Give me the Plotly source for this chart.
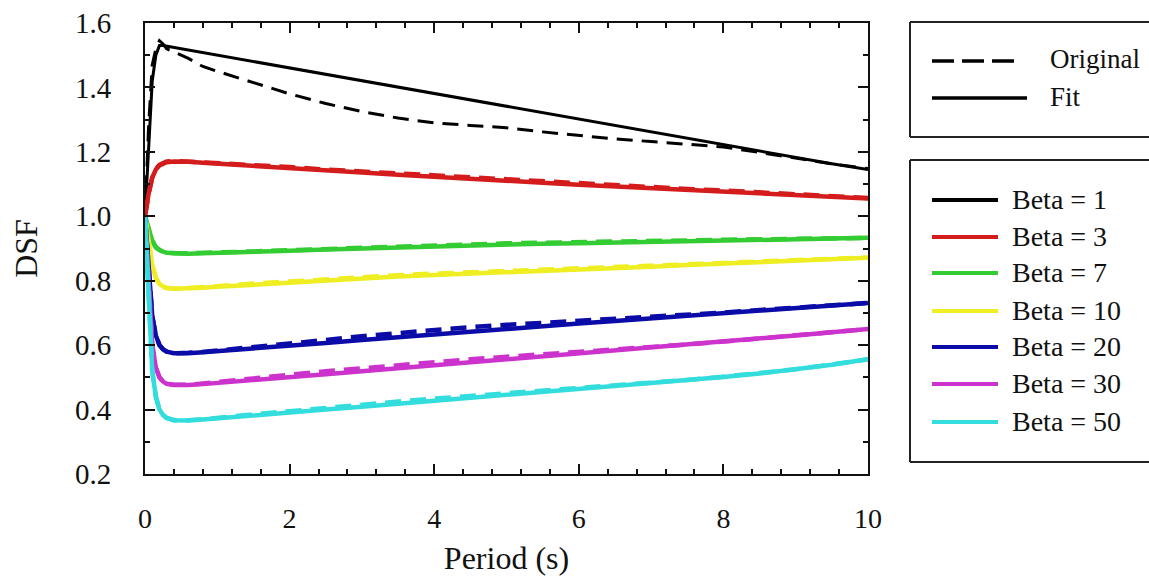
import plotly.graph_objects as go

# Period grid (s)
periods = [0, 0.02, 0.05, 0.1, 0.15, 0.2, 0.25, 0.3, 0.4, 0.5, 0.6, 0.8, 1.0,
           1.5, 2, 2.5, 3, 3.5, 4, 4.5, 5, 5.5, 6, 6.5, 7, 7.5, 8, 8.5, 9, 9.5, 10]

betas = [1, 3, 7, 10, 20, 30, 50]
colors = ["#000000", "#d41c1c", "#33cc33", "#eeee22", "#0b0ba8", "#cc33cc", "#33dddd"]

# Fitted damping scaling factor curves
fit_b1 = [1.0, 1.08, 1.22, 1.42, 1.50, 1.53, 1.53, 1.528, 1.524, 1.520, 1.516, 1.508, 1.500,
          1.480, 1.460, 1.440, 1.421, 1.401, 1.381, 1.361, 1.341, 1.321, 1.302, 1.282, 1.262,
          1.242, 1.222, 1.202, 1.183, 1.163, 1.145]
fit_b3 = [1.0, 1.03, 1.07, 1.12, 1.145, 1.158, 1.165, 1.168, 1.170, 1.170, 1.169, 1.166, 1.163,
          1.157, 1.150, 1.143, 1.136, 1.129, 1.122, 1.116, 1.110, 1.104, 1.098, 1.093, 1.088,
          1.083, 1.078, 1.072, 1.067, 1.061, 1.055]
fit_b7 = [1.0, 0.985, 0.955, 0.925, 0.905, 0.895, 0.890, 0.887, 0.885, 0.884, 0.884, 0.885, 0.886,
          0.889, 0.893, 0.897, 0.900, 0.904, 0.908, 0.911, 0.913, 0.915, 0.916, 0.918, 0.921,
          0.924, 0.926, 0.928, 0.930, 0.932, 0.933]
fit_b10 = [1.0, 0.97, 0.92, 0.85, 0.81, 0.79, 0.782, 0.778, 0.775, 0.775, 0.776, 0.778, 0.781,
           0.788, 0.795, 0.802, 0.808, 0.813, 0.818, 0.822, 0.827, 0.830, 0.833, 0.838, 0.843,
           0.849, 0.854, 0.859, 0.863, 0.867, 0.871]
fit_b20 = [1.0, 0.93, 0.83, 0.69, 0.63, 0.60, 0.587, 0.580, 0.575, 0.574, 0.575, 0.578, 0.581,
           0.589, 0.598, 0.607, 0.616, 0.625, 0.634, 0.643, 0.651, 0.659, 0.667, 0.675, 0.683,
           0.691, 0.699, 0.708, 0.716, 0.724, 0.731]
fit_b30 = [1.0, 0.91, 0.78, 0.60, 0.53, 0.50, 0.487, 0.480, 0.476, 0.475, 0.476, 0.479, 0.483,
           0.492, 0.501, 0.510, 0.519, 0.528, 0.537, 0.546, 0.555, 0.564, 0.573, 0.582, 0.591,
           0.600, 0.610, 0.620, 0.630, 0.640, 0.650]
fit_b50 = [1.0, 0.89, 0.74, 0.52, 0.44, 0.40, 0.383, 0.374, 0.367, 0.365, 0.366, 0.369, 0.373,
           0.382, 0.391, 0.400, 0.409, 0.418, 0.427, 0.436, 0.445, 0.454, 0.463, 0.472, 0.481,
           0.491, 0.501, 0.512, 0.524, 0.539, 0.556]

# Original (computed) curves
orig_b1 = [1.0, 1.10, 1.28, 1.47, 1.52, 1.545, 1.535, 1.520, 1.510, 1.500, 1.490, 1.465, 1.450,
           1.415, 1.380, 1.350, 1.325, 1.305, 1.290, 1.282, 1.275, 1.262, 1.250, 1.240, 1.232,
           1.224, 1.215, 1.198, 1.180, 1.163, 1.148]
orig_b3 = [1.0, 1.03, 1.07, 1.12, 1.147, 1.160, 1.167, 1.170, 1.172, 1.171, 1.170, 1.167, 1.164,
           1.158, 1.153, 1.145, 1.139, 1.131, 1.125, 1.118, 1.112, 1.106, 1.101, 1.095, 1.090,
           1.085, 1.080, 1.074, 1.069, 1.063, 1.057]
orig_b7 = [1.0, 0.985, 0.953, 0.922, 0.903, 0.894, 0.889, 0.887, 0.885, 0.885, 0.885, 0.887, 0.888,
           0.891, 0.895, 0.899, 0.903, 0.907, 0.911, 0.914, 0.916, 0.918, 0.919, 0.921, 0.923,
           0.925, 0.927, 0.929, 0.931, 0.932, 0.933]
orig_b10 = [1.0, 0.97, 0.918, 0.848, 0.808, 0.789, 0.781, 0.777, 0.775, 0.776, 0.777, 0.780, 0.783,
            0.791, 0.798, 0.805, 0.811, 0.817, 0.822, 0.826, 0.830, 0.833, 0.836, 0.840, 0.845,
            0.850, 0.855, 0.860, 0.864, 0.868, 0.872]
orig_b20 = [1.0, 0.93, 0.83, 0.69, 0.63, 0.60, 0.587, 0.580, 0.575, 0.575, 0.576, 0.579, 0.583,
            0.593, 0.604, 0.616, 0.628, 0.638, 0.648, 0.656, 0.663, 0.669, 0.674, 0.680, 0.687,
            0.694, 0.701, 0.709, 0.717, 0.724, 0.731]
orig_b30 = [1.0, 0.91, 0.78, 0.60, 0.53, 0.50, 0.487, 0.480, 0.477, 0.476, 0.477, 0.481, 0.486,
            0.497, 0.508, 0.519, 0.529, 0.539, 0.548, 0.556, 0.564, 0.571, 0.578, 0.586, 0.594,
            0.602, 0.611, 0.621, 0.630, 0.640, 0.650]
orig_b50 = [1.0, 0.89, 0.74, 0.52, 0.44, 0.40, 0.383, 0.374, 0.367, 0.366, 0.367, 0.370, 0.375,
            0.385, 0.395, 0.406, 0.416, 0.425, 0.434, 0.442, 0.450, 0.458, 0.466, 0.474, 0.483,
            0.492, 0.502, 0.513, 0.525, 0.540, 0.556]

fit_curves = [fit_b1, fit_b3, fit_b7, fit_b10, fit_b20, fit_b30, fit_b50]
orig_curves = [orig_b1, orig_b3, orig_b7, orig_b10, orig_b20, orig_b30, orig_b50]

FONT = "Liberation Serif, Times New Roman, serif"
W, H = 1149, 577
PL, PR, PT, PB = 145, 868, 23, 474  # plot area edges in pixels


def px(xp):
    return (xp - PL) / (PR - PL)


def py(yp):
    return (PB - yp) / (PB - PT)


fig = go.Figure()

for beta, col, orig, fit in zip(betas, colors, orig_curves, fit_curves):
    width = 3 if beta == 1 else 4.5
    fig.add_trace(go.Scatter(x=periods, y=orig, mode="lines", name=f"Beta = {beta} (Original)",
                             line=dict(color=col, width=width, dash="16px,9px"),
                             showlegend=False))
    fig.add_trace(go.Scatter(x=periods, y=fit, mode="lines", name=f"Beta = {beta} (Fit)",
                             line=dict(color=col, width=width),
                             showlegend=False))

shapes = []
annotations = []


def open_box(left, top, bottom, right=W):
    """Key frame that runs to the right edge: left, top and bottom sides only."""
    style = dict(color="#222222", width=2)
    return [
        dict(type="line", xref="paper", yref="paper", x0=px(left), x1=px(left),
             y0=py(bottom), y1=py(top), line=style),
        dict(type="line", xref="paper", yref="paper", x0=px(left), x1=px(right),
             y0=py(top), y1=py(top), line=style),
        dict(type="line", xref="paper", yref="paper", x0=px(left), x1=px(right),
             y0=py(bottom), y1=py(bottom), line=style),
    ]


# Line-style key
shapes += open_box(910, 22, 137)
shapes.append(dict(type="line", xref="paper", yref="paper",
                   x0=px(932), x1=px(1017), y0=py(61), y1=py(61),
                   line=dict(color="#000000", width=3.5, dash="22px,8px")))
shapes.append(dict(type="line", xref="paper", yref="paper",
                   x0=px(932), x1=px(1027), y0=py(98), y1=py(98),
                   line=dict(color="#000000", width=3.5)))
for label, yy in [("Original", 59), ("Fit", 97)]:
    annotations.append(dict(text=label, xref="paper", yref="paper", x=px(1048), y=py(yy),
                            xanchor="left", yanchor="middle", showarrow=False,
                            font=dict(family=FONT, size=27, color="#111111")))

# Beta key
shapes += open_box(910, 160, 462)
key_rows = [200, 237, 273, 311, 347, 384, 422]
for beta, col, yy in zip(betas, colors, key_rows):
    shapes.append(dict(type="line", xref="paper", yref="paper",
                       x0=px(932), x1=px(998), y0=py(yy), y1=py(yy),
                       line=dict(color=col, width=4)))
    annotations.append(dict(text=f"Beta = {beta}", xref="paper", yref="paper",
                            x=px(1010), y=py(yy - 1), xanchor="left", yanchor="middle",
                            showarrow=False, font=dict(family=FONT, size=28, color="#111111")))

axis_common = dict(
    showgrid=False, zeroline=False, showline=True, linecolor="#111111", linewidth=2,
    mirror="ticks", ticks="inside", ticklen=10, tickwidth=2, tickcolor="#111111",
)

fig.update_layout(
    width=W, height=H,
    margin=dict(l=PL, r=W - PR, t=PT, b=H - PB, autoexpand=False),
    paper_bgcolor="white", plot_bgcolor="white",
    font=dict(family=FONT, color="#111111"),
    shapes=shapes, annotations=annotations,
    xaxis=dict(range=[0, 10], tick0=0, dtick=2,
               tickfont=dict(family=FONT, size=28, color="#111111"),
               ticklabelstandoff=18,
               title=dict(text="Period (s)", font=dict(family=FONT, size=32, color="#111111"),
                          standoff=14),
               minor=dict(dtick=0.4, tick0=0, ticks="inside", ticklen=5, tickwidth=1.5,
                          tickcolor="#111111", showgrid=False),
               **axis_common),
    yaxis=dict(range=[0.2, 1.6], tick0=0.2, dtick=0.2, tickformat=".1f",
               tickfont=dict(family=FONT, size=29, color="#111111"),
               ticklabelstandoff=26,
               title=dict(text="DSF", font=dict(family=FONT, size=32, color="#111111"),
                          standoff=28),
               minor=dict(dtick=0.1, tick0=0.2, ticks="inside", ticklen=5, tickwidth=1.5,
                          tickcolor="#111111", showgrid=False),
               **axis_common),
    showlegend=False,
)

fig.write_html("out.html")
